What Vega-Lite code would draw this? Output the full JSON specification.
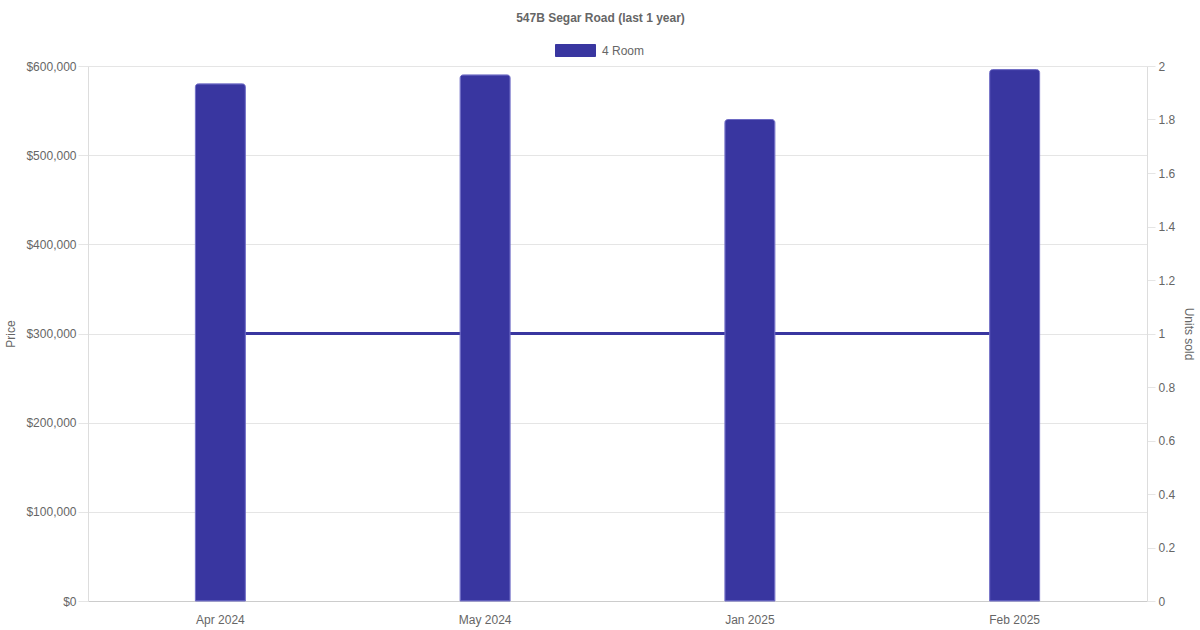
{
  "$schema": "https://vega.github.io/schema/vega-lite/v6.json",
  "autosize": {"type": "none"},
  "width": 1059,
  "height": 535,
  "padding": {"left": 88, "top": 66, "right": 53, "bottom": 29},
  "background": "white",
  "title": {
    "text": "547B Segar Road (last 1 year)",
    "anchor": "middle",
    "dx": -17,
    "offset": 5,
    "font": "Liberation Sans",
    "fontSize": 12,
    "fontWeight": "bold",
    "color": "#666666"
  },
  "config": {
    "view": {"stroke": null},
    "font": "Liberation Sans",
    "axis": {
      "labelFont": "Liberation Sans",
      "labelFontSize": 12,
      "labelColor": "#666666",
      "titleFont": "Liberation Sans",
      "titleFontSize": 12,
      "titleFontWeight": "normal",
      "titleColor": "#666666",
      "domainColor": "#dddddd",
      "gridColor": "#e5e5e5",
      "tickColor": "#e5e5e5"
    }
  },
  "data": {
    "values": [
      {"month": "Apr 2024", "price": 580000, "units": 1, "type": "4 Room"},
      {"month": "May 2024", "price": 590000, "units": 1, "type": "4 Room"},
      {"month": "Jan 2025", "price": 540000, "units": 1, "type": "4 Room"},
      {"month": "Feb 2025", "price": 596000, "units": 1, "type": "4 Room"}
    ]
  },
  "encoding": {
    "x": {
      "field": "month",
      "type": "ordinal",
      "sort": null,
      "title": null,
      "scale": {"paddingInner": 0, "paddingOuter": 0},
      "axis": {"labelAngle": 0, "ticks": false, "grid": false, "labelPadding": 13, "domainColor": "#cccccc"}
    },
    "color": {
      "field": "type",
      "type": "nominal",
      "scale": {"range": ["#3936a0"]},
      "legend": {
        "orient": "none",
        "legendX": 467,
        "legendY": -36,
        "title": null,
        "symbolType": "M-1,-0.3H1V0.3H-1Z",
        "symbolSize": 1600,
        "symbolStrokeColor": "#6d6ac4",
        "symbolStrokeWidth": 1,
        "labelFont": "Liberation Sans",
        "labelFontSize": 12,
        "labelColor": "#666666",
        "labelOffset": 6
      }
    }
  },
  "layer": [
    {
      "mark": {"type": "line", "strokeWidth": 3},
      "encoding": {
        "y": {
          "field": "units",
          "type": "quantitative",
          "title": "Units sold",
          "scale": {"domain": [0, 2]},
          "axis": {
            "orient": "right",
            "values": [0, 0.2, 0.4, 0.6, 0.8, 1, 1.2, 1.4, 1.6, 1.8, 2],
            "format": ".1~f",
            "grid": false,
            "tickSize": 8,
            "labelPadding": 3,
            "titlePadding": 7
          }
        }
      }
    },
    {
      "mark": {
        "type": "bar",
        "width": 50,
        "stroke": "#6d6ac4",
        "strokeWidth": 1,
        "cornerRadiusTopLeft": 3,
        "cornerRadiusTopRight": 3
      },
      "encoding": {
        "y": {
          "field": "price",
          "type": "quantitative",
          "title": "Price",
          "scale": {"domain": [0, 600000]},
          "axis": {
            "orient": "left",
            "values": [0, 100000, 200000, 300000, 400000, 500000, 600000],
            "format": "$,.0f",
            "grid": true,
            "tickSize": 10,
            "labelPadding": 2,
            "titlePadding": 8
          }
        }
      }
    }
  ],
  "resolve": {"scale": {"y": "independent"}}
}
